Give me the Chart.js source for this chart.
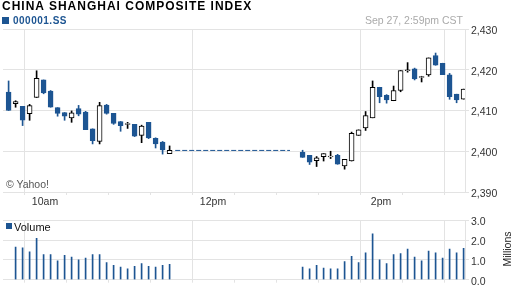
<!DOCTYPE html>
<html>
<head>
<meta charset="utf-8">
<script src="https://cdn.jsdelivr.net/npm/chart.js@4.4.1/dist/chart.umd.min.js"></script>
<style>
  html, body { margin: 0; padding: 0; background: #fff; }
  body { width: 512px; height: 288px; position: relative; overflow: hidden;
         font-family: "Liberation Sans", Arial, sans-serif; }
  .abs { position: absolute; white-space: nowrap; }
  #titulo  { left: 2px; top: -1px; font-size: 12px; line-height: 14px; font-weight: bold; letter-spacing: 1px; color: #000; }
  #cuadro  { left: 2px; top: 17px; width: 7px; height: 7px; background: #1d5592; }
  #simbolo { left: 13px; top: 14.5px; font-size: 10px; line-height: 12px; font-weight: bold; letter-spacing: 0.5px; color: #1d5592; }
  #fecha   { right: 49px; top: 14px; font-size: 10.5px; line-height: 12px; color: #aaa; }
  #yahoo   { left: 6px; top: 177.5px; font-size: 10.5px; line-height: 12px; color: #555; }
  #cuadroVol { left: 6px; top: 223px; width: 6px; height: 6px; background: #1d5592; }
  #volumen { left: 14px; top: 220.5px; font-size: 11px; line-height: 13px; color: #111; }
  #millones { left: 487px; top: 243px; width: 40px; height: 12px; font-size: 10.5px; line-height: 12px;
              text-align: center; color: #222; transform: rotate(-90deg); }
  #cPrecio { position: absolute; left: 0; top: 0; }
  #cVol    { position: absolute; left: 0; top: 212px; }
</style>
</head>
<body>
<canvas id="cPrecio" width="512" height="212"></canvas>
<canvas id="cVol" width="512" height="76"></canvas>
<div class="abs" id="titulo">CHINA SHANGHAI COMPOSITE INDEX</div>
<div class="abs" id="cuadro"></div>
<div class="abs" id="simbolo">000001.SS</div>
<div class="abs" id="fecha">Sep 27, 2:59pm CST</div>
<div class="abs" id="yahoo">© Yahoo!</div>
<div class="abs" id="cuadroVol"></div>
<div class="abs" id="volumen">Volume</div>
<div class="abs" id="millones">Millions</div>
<script>
// ---------- DATOS (velas de 5 minutos) ----------
const horas = [
  "09:34","09:39","09:44","09:49","09:54","09:59","10:04","10:09","10:14","10:19","10:24","10:29",
  "10:34","10:39","10:44","10:49","10:54","10:59","11:04","11:09","11:14","11:19","11:24","11:29",
  "13:04","13:09","13:14","13:19","13:24","13:29","13:34","13:39","13:44","13:49","13:54","13:59",
  "14:04","14:09","14:14","14:19","14:24","14:29","14:34","14:39","14:44","14:49","14:54","14:59"
];
const apertura = [
  2414.5, 2411.7, 2411.0, 2409.2, 2413.2, 2417.5, 2414.75, 2410.7, 2409.5, 2408.2, 2410.5, 2409.6,
  2405.5, 2402.4, 2411.3, 2409.3, 2407.3, 2406.6, 2406.6, 2403.9, 2407.1, 2403.2, 2402.25, 2399.4,
  2399.75, 2399.0, 2397.7, 2398.7, 2398.6, 2399.0, 2396.4, 2397.6, 2403.9, 2405.7, 2408.2, 2415.7,
  2413.75, 2412.4, 2414.9, 2419.75, 2420.25, 2418.1, 2418.75, 2423.5, 2421.6, 2418.75, 2414.0, 2412.8
];
const maximo = [
  2417.25, 2412.4, 2411.0, 2411.5, 2419.75, 2417.5, 2414.9, 2410.7, 2409.5, 2409.9, 2411.25, 2409.8,
  2405.5, 2412.0, 2411.5, 2409.3, 2407.3, 2407.1, 2406.6, 2406.4, 2407.1, 2403.3, 2402.4, 2401.3,
  2400.25, 2399.0, 2398.7, 2399.4, 2400.0, 2399.25, 2398.0, 2404.7, 2405.25, 2409.75, 2417.25, 2415.7,
  2413.9, 2416.0, 2419.8, 2421.75, 2420.4, 2418.4, 2422.9, 2424.1, 2421.6, 2419.1, 2414.0, 2415.25
];
const minimo = [
  2410.0, 2410.8, 2406.3, 2407.6, 2413.2, 2414.1, 2410.8, 2408.6, 2407.6, 2407.1, 2408.7, 2405.3,
  2401.8, 2401.8, 2409.1, 2406.6, 2404.9, 2405.6, 2403.6, 2402.1, 2403.1, 2400.8, 2399.3, 2399.4,
  2398.5, 2396.75, 2396.25, 2397.6, 2398.2, 2396.8, 2395.6, 2397.6, 2403.9, 2405.1, 2408.2, 2411.9,
  2411.8, 2412.4, 2414.6, 2419.4, 2417.5, 2417.0, 2418.4, 2421.1, 2418.8, 2412.75, 2411.9, 2412.8
];
const cierre = [
  2410.0, 2412.2, 2407.6, 2411.2, 2417.9, 2414.3, 2410.8, 2409.3, 2408.6, 2409.4, 2409.1, 2405.3,
  2402.6, 2411.2, 2409.3, 2406.8, 2406.3, 2406.8, 2403.7, 2406.2, 2403.25, 2401.8, 2400.3, 2400.2,
  2398.5, 2397.3, 2398.4, 2399.4, 2398.8, 2396.8, 2398.0, 2404.4, 2405.25, 2408.75, 2415.7, 2413.4,
  2412.6, 2414.9, 2419.8, 2420.0, 2417.75, 2418.3, 2422.9, 2421.1, 2418.8, 2413.4, 2412.6, 2415.25
];
// volumen en millones (la primera vela no tiene barra)
const volumen = [
  null, 1.65, 1.61, 1.41, 2.09, 1.27, 1.27, 0.95, 1.23, 1.14, 1.0, 1.09,
  1.27, 1.27, 0.86, 0.73, 0.64, 0.55, 0.68, 0.82, 0.68, 0.64, 0.73, 0.77,
  0.64, 0.55, 0.73, 0.59, 0.55, 0.55, 0.91, 1.18, 0.86, 1.36, 2.32, 1.0,
  0.82, 1.27, 1.32, 1.55, 1.14, 0.95, 1.45, 1.36, 1.09, 1.55, 1.36, 1.59
];
// pausa del mediodía: línea punteada con el último cierre
const pausa = ["11:33", "12:55"];
const etiquetasX = { "10:00": "10am", "12:00": "12pm", "14:00": "2pm" };
const ticksPrecio = [2390, 2400, 2410, 2420, 2430];
const ticksVol = [0, 1, 2, 3];

// ---------- ESTILO ----------
const AZUL = "#1d5592";
const GRIS = "#e3e3e3";
const TEXTO = "#333";
const INICIO = 9 * 60 + 30;   // eje desde 9:30
const FIN = 15 * 60;          // hasta 15:00

const aMin = h => { const [a, b] = h.split(":").map(Number); return a * 60 + b - INICIO; };
const sube = i => cierre[i] >= apertura[i];

const lineasX = [0, ...Object.keys(etiquetasX).map(aMin), FIN - INICIO];
const nombresX = {};
Object.keys(etiquetasX).forEach(h => { nombresX[aMin(h)] = etiquetasX[h]; });

function ejeX(conEtiquetas, alto) {
  return {
    type: "linear", min: 0, max: FIN - INICIO, offset: false,
    afterFit: s => { s.height = alto; },
    ticks: {
      display: conEtiquetas, stepSize: 30, autoSkip: false, maxRotation: 0, padding: 1,
      color: TEXTO, font: { size: 10.5, family: "'Liberation Sans', Arial" },
      callback: v => nombresX[v] || ""
    },
    grid: {
      color: c => (c.tick && lineasX.includes(c.tick.value)) ? GRIS : "rgba(0,0,0,0)",
      tickColor: GRIS, tickLength: 3
    },
    border: { color: GRIS }
  };
}

function ejeY(min, max, ticks, formato) {
  return {
    position: "right", min, max,
    afterFit: s => { s.width = 47; },
    afterBuildTicks: s => { s.ticks = ticks.map(v => ({ value: v })); },
    ticks: {
      color: TEXTO, padding: 2, labelOffset: 2,
      font: { size: 10.5, family: "'Liberation Sans', Arial" },
      callback: formato
    },
    grid: { color: GRIS, tickLength: 4 },
    border: { color: GRIS }
  };
}

// ---------- GRÁFICA DE PRECIO ----------
const ultimo = cierre[23];

new Chart(document.getElementById("cPrecio"), {
  type: "bar",
  data: {
    datasets: [
      {
        label: "cuerpo", order: 0, grouped: false, barThickness: 5, borderWidth: 1, borderSkipped: false,
        data: horas.map((h, i) => ({ x: aMin(h), y: [apertura[i], cierre[i]] })),
        backgroundColor: c => sube(c.dataIndex) ? "#fff" : AZUL,
        borderColor: c => sube(c.dataIndex) ? "#000" : AZUL
      },
      {
        label: "mecha", order: 1, grouped: false, barThickness: 1, borderWidth: 0,
        data: horas.map((h, i) => ({ x: aMin(h), y: [minimo[i], maximo[i]] })),
        backgroundColor: c => sube(c.dataIndex) ? "#000" : AZUL
      },
      {
        type: "line", label: "pausa", order: 2,
        data: pausa.map(h => ({ x: aMin(h), y: ultimo })),
        borderColor: AZUL, borderWidth: 1, borderDash: [5, 2], pointRadius: 0
      }
    ]
  },
  options: {
    responsive: false, animation: false,
    layout: { padding: { left: 3, top: 29, right: 0, bottom: 0 } },
    plugins: { legend: { display: false }, tooltip: { enabled: false } },
    scales: {
      x: ejeX(true, 20),
      y: ejeY(2390, 2430, ticksPrecio, v => v.toLocaleString("en-US"))
    }
  }
});

// ---------- GRÁFICA DE VOLUMEN ----------
new Chart(document.getElementById("cVol"), {
  type: "bar",
  data: {
    datasets: [{
      label: "Volume", barThickness: 1, borderWidth: 0, backgroundColor: AZUL,
      data: horas.map((h, i) => ({ x: aMin(h), y: volumen[i] }))
    }]
  },
  options: {
    responsive: false, animation: false,
    layout: { padding: { left: 3, top: 2, right: 0, bottom: 0 } },
    plugins: { legend: { display: false }, tooltip: { enabled: false } },
    scales: {
      x: ejeX(false, 7),
      y: ejeY(0, 3, ticksVol, v => v.toFixed(1))
    }
  }
});
</script>
</body>
</html>
